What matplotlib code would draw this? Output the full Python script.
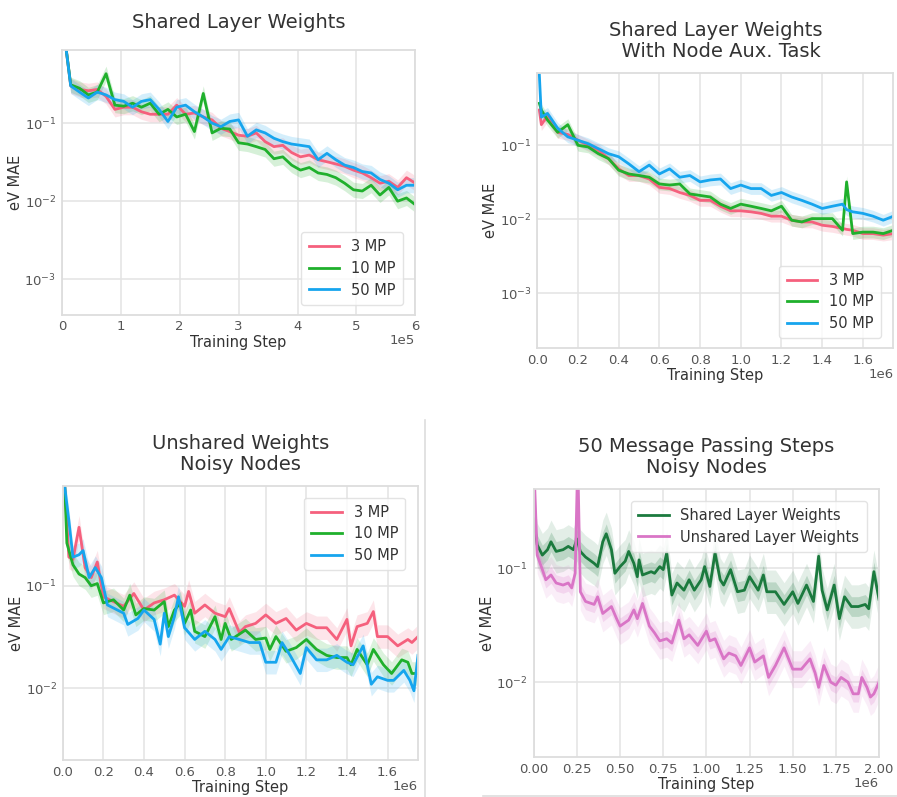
import numpy as np
import matplotlib
matplotlib.use("Agg")
import matplotlib.pyplot as plt
from matplotlib.lines import Line2D
from matplotlib.ticker import LogLocator, NullLocator

plt.rcParams['font.family'] = ['DejaVu Sans']

# ---------------- Panel 1: Shared Layer Weights (x in units of 1e5) ----------------
p1_x = [0.05, 0.15, 0.3, 0.45, 0.6, 0.75, 0.9, 1.05, 1.2, 1.35, 1.5, 1.65, 1.8, 1.95,
        2.1, 2.25, 2.4, 2.55, 2.7, 2.85, 3.0, 3.15, 3.3, 3.45, 3.6, 3.75, 3.9, 4.05,
        4.2, 4.35, 4.5, 4.65, 4.8, 4.95, 5.1, 5.25, 5.4, 5.55, 5.7, 5.85, 6.0]
p1_3mp = [1.2, 0.30, 0.27, 0.26, 0.27, 0.22, 0.15, 0.16, 0.16, 0.14, 0.13, 0.13, 0.13, 0.17,
          0.13, 0.135, 0.12, 0.11, 0.086, 0.078, 0.07, 0.068, 0.075, 0.058, 0.05, 0.052,
          0.042, 0.037, 0.039, 0.034, 0.032, 0.030, 0.028, 0.025, 0.023, 0.020, 0.017,
          0.018, 0.015, 0.020, 0.017]
p1_10mp = [1.2, 0.31, 0.28, 0.23, 0.25, 0.43, 0.17, 0.165, 0.18, 0.16, 0.18, 0.13, 0.15, 0.12,
           0.13, 0.078, 0.24, 0.075, 0.086, 0.084, 0.056, 0.054, 0.050, 0.046, 0.035, 0.037,
           0.029, 0.025, 0.027, 0.023, 0.022, 0.020, 0.017, 0.014, 0.0135, 0.016, 0.012,
           0.015, 0.010, 0.011, 0.009]
p1_50mp = [1.2, 0.30, 0.25, 0.21, 0.25, 0.23, 0.20, 0.19, 0.16, 0.19, 0.20, 0.15, 0.105, 0.16,
           0.17, 0.14, 0.12, 0.10, 0.09, 0.105, 0.11, 0.068, 0.082, 0.075, 0.064, 0.058,
           0.054, 0.052, 0.050, 0.034, 0.041, 0.034, 0.029, 0.027, 0.024, 0.023, 0.019,
           0.017, 0.014, 0.016, 0.016]

# ---------------- Panel 2: Shared Layer Weights With Node Aux. Task (x in 1e6) ----------------
p2_x = [0.01, 0.02, 0.05, 0.1, 0.15, 0.2, 0.25, 0.3, 0.35, 0.4, 0.45, 0.5, 0.55, 0.6, 0.65,
        0.7, 0.75, 0.8, 0.85, 0.9, 0.95, 1.0, 1.05, 1.1, 1.15, 1.2, 1.25, 1.3, 1.35, 1.4,
        1.45, 1.5, 1.52, 1.55, 1.6, 1.65, 1.7, 1.75]
p2_3mp = [0.3, 0.19, 0.25, 0.15, 0.14, 0.117, 0.1, 0.086, 0.066, 0.048, 0.039, 0.039, 0.035,
          0.027, 0.026, 0.023, 0.021, 0.018, 0.018, 0.015, 0.013, 0.013, 0.0126, 0.012, 0.011,
          0.011, 0.0097, 0.0092, 0.0092, 0.0083, 0.008, 0.0075, 0.0073, 0.0071, 0.0064,
          0.0064, 0.0061, 0.0064]
p2_10mp = [0.37, 0.30, 0.22, 0.15, 0.19, 0.10, 0.095, 0.077, 0.066, 0.046, 0.041, 0.039, 0.037,
           0.030, 0.029, 0.030, 0.022, 0.021, 0.020, 0.016, 0.014, 0.016, 0.015, 0.014, 0.013,
           0.015, 0.0097, 0.0092, 0.0102, 0.0102, 0.0102, 0.0071, 0.032, 0.0064, 0.0067,
           0.0067, 0.0064, 0.0071]
p2_50mp = [0.9, 0.24, 0.27, 0.17, 0.13, 0.117, 0.105, 0.09, 0.077, 0.07, 0.056, 0.044, 0.054,
           0.041, 0.048, 0.037, 0.039, 0.032, 0.034, 0.035, 0.026, 0.029, 0.026, 0.026, 0.021,
           0.023, 0.020, 0.018, 0.016, 0.014, 0.015, 0.016, 0.0135, 0.0126, 0.012, 0.011,
           0.0097, 0.011]

# ---------------- Panel 3: Unshared Weights Noisy Nodes (x in 1e6) ----------------
p3_x_3mp = [0.01, 0.03, 0.05, 0.08, 0.11, 0.14, 0.17, 0.2, 0.25, 0.3, 0.35, 0.4, 0.45, 0.5,
            0.55, 0.6, 0.62, 0.65, 0.7, 0.75, 0.8, 0.82, 0.87, 0.9, 0.95, 1.0, 1.05, 1.1,
            1.15, 1.2, 1.25, 1.3, 1.35, 1.4, 1.42, 1.45, 1.5, 1.53, 1.55, 1.6, 1.65, 1.7,
            1.72, 1.75]
p3_3mp = [0.9, 0.19, 0.18, 0.37, 0.15, 0.12, 0.17, 0.078, 0.07, 0.063, 0.084, 0.058, 0.068,
          0.073, 0.081, 0.063, 0.088, 0.054, 0.065, 0.054, 0.05, 0.06, 0.035, 0.04, 0.043,
          0.052, 0.043, 0.048, 0.037, 0.043, 0.039, 0.039, 0.03, 0.047, 0.026, 0.04, 0.043,
          0.056, 0.032, 0.032, 0.026, 0.03, 0.028, 0.032]
p3_x_10mp = [0.01, 0.02, 0.05, 0.08, 0.11, 0.14, 0.17, 0.2, 0.25, 0.3, 0.33, 0.36, 0.4, 0.45,
             0.5, 0.52, 0.55, 0.58, 0.6, 0.63, 0.65, 0.7, 0.75, 0.78, 0.8, 0.83, 0.9, 0.95,
             1.0, 1.02, 1.05, 1.1, 1.15, 1.2, 1.25, 1.3, 1.35, 1.4, 1.42, 1.45, 1.5, 1.53,
             1.58, 1.62, 1.67, 1.7, 1.72, 1.75]
p3_10mp = [0.9, 0.26, 0.16, 0.13, 0.12, 0.10, 0.105, 0.068, 0.073, 0.058, 0.081, 0.052, 0.06,
           0.058, 0.07, 0.04, 0.058, 0.068, 0.043, 0.058, 0.036, 0.032, 0.05, 0.03, 0.043,
           0.03, 0.037, 0.03, 0.031, 0.024, 0.032, 0.023, 0.025, 0.03, 0.024, 0.021, 0.02,
           0.02, 0.017, 0.024, 0.017, 0.024, 0.017, 0.014, 0.019, 0.018, 0.014, 0.014]
p3_x_50mp = [0.01, 0.03, 0.05, 0.08, 0.1, 0.13, 0.16, 0.19, 0.22, 0.3, 0.32, 0.37, 0.4, 0.45,
             0.48, 0.5, 0.52, 0.55, 0.57, 0.6, 0.65, 0.7, 0.75, 0.78, 0.82, 0.87, 0.92, 0.97,
             1.0, 1.05, 1.08, 1.12, 1.17, 1.2, 1.25, 1.3, 1.35, 1.4, 1.43, 1.48, 1.52, 1.55,
             1.6, 1.63, 1.68, 1.71, 1.73, 1.75]
p3_50mp = [0.9, 0.43, 0.19, 0.2, 0.22, 0.12, 0.15, 0.12, 0.065, 0.054, 0.042, 0.048, 0.058,
           0.047, 0.027, 0.054, 0.032, 0.05, 0.078, 0.039, 0.03, 0.036, 0.03, 0.024, 0.032,
           0.03, 0.028, 0.028, 0.018, 0.018, 0.028, 0.021, 0.014, 0.025, 0.019, 0.019, 0.021,
           0.018, 0.017, 0.026, 0.011, 0.013, 0.012, 0.012, 0.015, 0.012, 0.0095, 0.021]

# ---------------- Panel 4: 50 Message Passing Steps Noisy Nodes (x in 1e6) ----------------
p4_x_shared = [0.0, 0.02, 0.05, 0.08, 0.1, 0.13, 0.17, 0.2, 0.23, 0.25, 0.27, 0.3, 0.35, 0.37,
               0.4, 0.42, 0.45, 0.47, 0.5, 0.53, 0.55, 0.58, 0.6, 0.61, 0.63, 0.68, 0.7, 0.73,
               0.75, 0.77, 0.8, 0.83, 0.87, 0.9, 0.93, 0.97, 0.99, 1.02, 1.05, 1.08, 1.1,
               1.14, 1.18, 1.22, 1.25, 1.3, 1.33, 1.35, 1.4, 1.45, 1.5, 1.53, 1.58, 1.62,
               1.65, 1.67, 1.7, 1.74, 1.77, 1.8, 1.84, 1.88, 1.92, 1.94, 1.97, 2.0]
p4_shared = [0.27, 0.16, 0.13, 0.145, 0.17, 0.14, 0.145, 0.155, 0.145, 0.18, 0.14, 0.125, 0.11,
             0.103, 0.17, 0.2, 0.145, 0.09, 0.103, 0.115, 0.14, 0.11, 0.084, 0.118, 0.087,
             0.093, 0.09, 0.103, 0.097, 0.136, 0.058, 0.074, 0.064, 0.079, 0.064, 0.079, 0.103,
             0.069, 0.136, 0.079, 0.071, 0.097, 0.062, 0.064, 0.084, 0.064, 0.087, 0.062,
             0.062, 0.048, 0.062, 0.049, 0.071, 0.051, 0.127, 0.064, 0.043, 0.071, 0.036,
             0.056, 0.046, 0.046, 0.048, 0.044, 0.093, 0.053]
p4_x_unshared = [0.0, 0.02, 0.05, 0.07, 0.1, 0.13, 0.17, 0.2, 0.22, 0.24, 0.255, 0.27, 0.3,
                 0.35, 0.37, 0.4, 0.45, 0.48, 0.5, 0.55, 0.58, 0.6, 0.63, 0.67, 0.7, 0.73,
                 0.77, 0.8, 0.84, 0.87, 0.9, 0.95, 1.0, 1.02, 1.05, 1.1, 1.13, 1.17, 1.2, 1.25,
                 1.28, 1.33, 1.36, 1.4, 1.45, 1.5, 1.55, 1.6, 1.63, 1.65, 1.68, 1.72, 1.75,
                 1.78, 1.82, 1.85, 1.88, 1.9, 1.93, 1.95, 1.97, 2.0]
p4_unshared = [0.9, 0.13, 0.097, 0.079, 0.087, 0.074, 0.071, 0.074, 0.067, 0.09, 0.9, 0.062,
               0.051, 0.048, 0.056, 0.04, 0.046, 0.036, 0.031, 0.035, 0.043, 0.036, 0.049,
               0.031, 0.027, 0.023, 0.024, 0.022, 0.035, 0.024, 0.026, 0.021, 0.028, 0.023,
               0.024, 0.016, 0.018, 0.017, 0.014, 0.02, 0.015, 0.017, 0.011, 0.014, 0.02,
               0.013, 0.013, 0.016, 0.012, 0.009, 0.014, 0.010, 0.0094, 0.011, 0.010, 0.0079,
               0.0079, 0.011, 0.009, 0.0074, 0.0079, 0.010]

labels_mp = ["3 MP", "10 MP", "50 MP"]
labels_4 = ["Shared Layer Weights", "Unshared Layer Weights"]
C_RED, C_GREEN, C_BLUE = "#f5607d", "#1fb02c", "#16a5ee"
C_DKGREEN, C_PINK = "#1b7a3e", "#d975c6"

TXT = "#333333"
TICK = "#555555"
EDGE = "#dddddd"
GRID = "#e3e3e3"

fig = plt.figure(figsize=(8.97, 7.97), dpi=100)


def style(ax, xlim, ylim, xticks, xticklabels, offset):
    ax.set_yscale("log")
    ax.set_xlim(*xlim)
    ax.set_ylim(*ylim)
    ax.yaxis.set_major_locator(LogLocator(base=10, numticks=10))
    ax.yaxis.set_minor_locator(NullLocator())
    ax.set_xticks(xticks)
    ax.set_xticklabels(xticklabels)
    for s in ax.spines.values():
        s.set_color(EDGE)
        s.set_linewidth(1.3)
    ax.grid(True, color=GRID, lw=1.1)
    ax.set_axisbelow(True)
    ax.tick_params(length=0, labelsize=9.5, colors=TICK, pad=4)
    ax.set_xlabel("Training Step", fontsize=10.5, color=TXT, labelpad=1)
    ax.set_ylabel("eV MAE", fontsize=10.5, color=TXT, labelpad=1)
    ax.annotate(offset, xy=(1.0, 0.0), xycoords="axes fraction",
                xytext=(0, -26), textcoords="offset pixels",
                ha="right", va="center", fontsize=9.5, color=TICK)


def band(ax, x, y, color, k, alpha):
    y = np.asarray(y)
    ax.fill_between(x, y / (1 + k), y * (1 + k), color=color, alpha=alpha, lw=0)


def legend(ax, loc, handles, labels, **kw):
    lg = ax.legend(handles, labels, loc=loc, fontsize=10.5, frameon=True,
                   handlelength=2.1, borderpad=0.5, labelspacing=0.45,
                   handletextpad=0.8, fancybox=True, **kw)
    lg.get_frame().set_edgecolor("#dddddd")
    lg.get_frame().set_linewidth(1.0)
    for t in lg.get_texts():
        t.set_color(TXT)
    return lg


# ---- Panel 1 ----
ax1 = fig.add_axes([0.069, 0.605, 0.394, 0.332])
hs = []
for ys, c in zip([p1_3mp, p1_10mp, p1_50mp], [C_RED, C_GREEN, C_BLUE]):
    band(ax1, p1_x, ys, c, 0.25, 0.18)
for ys, c in zip([p1_3mp, p1_10mp, p1_50mp], [C_RED, C_GREEN, C_BLUE]):
    h, = ax1.plot(p1_x, ys, color=c, lw=2)
    hs.append(h)
style(ax1, (0, 6), (3.5e-4, 0.86), range(7), [str(i) for i in range(7)], "1e5")
ax1.set_title("Shared Layer Weights", fontsize=14, color=TXT, pad=16)
legend(ax1, "lower right", hs, labels_mp, bbox_to_anchor=(0.985, 0.01))

# ---- Panel 2 ----
ax2 = fig.add_axes([0.599, 0.563, 0.397, 0.345])
hs = []
for ys, c in zip([p2_3mp, p2_10mp, p2_50mp], [C_RED, C_GREEN, C_BLUE]):
    band(ax2, p2_x, ys, c, 0.2, 0.18)
for ys, c in zip([p2_3mp, p2_10mp, p2_50mp], [C_RED, C_GREEN, C_BLUE]):
    h, = ax2.plot(p2_x, ys, color=c, lw=2)
    hs.append(h)
t2 = np.arange(0, 1.61, 0.2)
style(ax2, (0, 1.75), (1.8e-4, 0.94), t2, ["%.1f" % v for v in t2], "1e6")
ax2.set_title("Shared Layer Weights\n  With Node Aux. Task", fontsize=14, color=TXT,
              pad=12, linespacing=1.1)
legend(ax2, "lower right", hs, labels_mp, bbox_to_anchor=(0.985, 0.01))

# ---- Panel 3 ----
ax3 = fig.add_axes([0.070, 0.046, 0.396, 0.344])
hs = []
p3 = [(p3_x_3mp, p3_3mp, C_RED), (p3_x_10mp, p3_10mp, C_GREEN), (p3_x_50mp, p3_50mp, C_BLUE)]
for xs, ys, c in p3:
    band(ax3, xs, ys, c, 0.3, 0.16)
for xs, ys, c in p3:
    h, = ax3.plot(xs, ys, color=c, lw=2)
    hs.append(h)
style(ax3, (0, 1.75), (2.0e-3, 0.93), t2, ["%.1f" % v for v in t2], "1e6")
ax3.set_title("Unshared Weights\nNoisy Nodes", fontsize=14, color=TXT, pad=12,
              linespacing=1.1)
legend(ax3, "upper right", hs, labels_mp, bbox_to_anchor=(0.985, 0.985))

# ---- Panel 4 ----
ax4 = fig.add_axes([0.595, 0.050, 0.385, 0.336])
band(ax4, p4_x_shared, p4_shared, C_DKGREEN, 0.55, 0.12)
band(ax4, p4_x_shared, p4_shared, C_DKGREEN, 0.22, 0.2)
band(ax4, p4_x_unshared, p4_unshared, C_PINK, 0.45, 0.12)
band(ax4, p4_x_unshared, p4_unshared, C_PINK, 0.18, 0.2)
h1, = ax4.plot(p4_x_shared, p4_shared, color=C_DKGREEN, lw=2)
h2, = ax4.plot(p4_x_unshared, p4_unshared, color=C_PINK, lw=2)
t4 = np.arange(0, 2.01, 0.25)
style(ax4, (0, 2.0), (2.2e-3, 0.49), t4, ["%.2f" % v for v in t4], "1e6")
ax4.set_title("50 Message Passing Steps\nNoisy Nodes", fontsize=14, color=TXT, pad=12,
              linespacing=1.1)
legend(ax4, "upper right", [h1, h2], labels_4, bbox_to_anchor=(0.985, 0.985))

# separator lines from the composite
fig.add_artist(Line2D([425 / 897, 425 / 897], [0, 1 - 420 / 797],
                      transform=fig.transFigure, color="#dddddd", lw=1.2))
fig.add_artist(Line2D([483 / 897, 1.0], [1 - 796 / 797, 1 - 796 / 797],
                      transform=fig.transFigure, color="#dddddd", lw=1.2))

fig.savefig("out.png", dpi=100, facecolor="white")
